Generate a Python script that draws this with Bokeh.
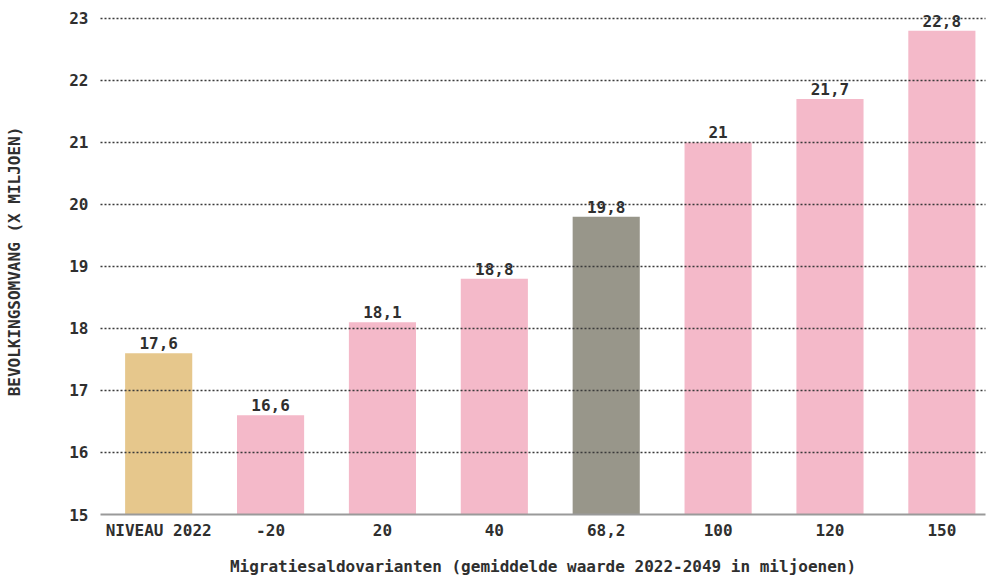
from bokeh.plotting import figure
from bokeh.models import Range1d, FixedTicker, ColumnDataSource
from bokeh.core.properties import value
from bokeh.embed import file_html
from bokeh.resources import INLINE

categories = ["NIVEAU 2022", "-20", "20", "40", "68,2", "100", "120", "150"]
populations = [17.6, 16.6, 18.1, 18.8, 19.8, 21.0, 21.7, 22.8]
bar_colors = ["#E6C78C", "#F4B9C9", "#F4B9C9", "#F4B9C9", "#98968A", "#F4B9C9", "#F4B9C9", "#F4B9C9"]
y_ticks = [15, 16, 17, 18, 19, 20, 21, 22, 23]
y_title = "BEVOLKINGSOMVANG (X MILJOEN)"
x_title = "Migratiesaldovarianten (gemiddelde waarde 2022-2049 in miljoenen)"

FONT = "DejaVu Sans Mono"
TXT = "#2f2f2f"
FS = "16px"

pos = list(range(len(categories)))
labels = [f"{v:g}".replace(".", ",") for v in populations]
src = ColumnDataSource(dict(x=pos, top=populations, color=bar_colors, label=labels))

p = figure(width=990, height=578, output_backend="svg", toolbar_location=None,
           x_range=Range1d(-0.52, 7.39), y_range=Range1d(15, 23.16),
           min_border_left=100, min_border_right=5, min_border_top=8, min_border_bottom=63)
p.outline_line_color = None
p.background_fill_color = "white"
p.border_fill_color = "white"

p.vbar(x="x", top="top", bottom=15, width=0.6, color="color", line_color=None, source=src)
p.text(x="x", y="top", text="label", source=src, text_align="center", text_baseline="middle",
       y_offset=-10, text_font=value(FONT), text_font_style="bold", text_font_size=FS,
       text_color=TXT)

# axes
p.xaxis.ticker = FixedTicker(ticks=pos)
p.xaxis.major_label_overrides = {i: c for i, c in zip(pos, categories)}
p.xaxis.major_tick_line_color = None
p.xaxis.minor_tick_line_color = None
p.xaxis.axis_line_color = "#9a9a9a"
p.xaxis.axis_line_width = 2
p.xaxis.major_label_standoff = 0
p.xaxis.major_label_text_font = FONT
p.xaxis.major_label_text_font_style = "bold"
p.xaxis.major_label_text_font_size = FS
p.xaxis.major_label_text_color = TXT
p.xaxis.axis_label = x_title
p.xaxis.axis_label_standoff = 14
p.xaxis.axis_label_text_font = FONT
p.xaxis.axis_label_text_font_style = "bold"
p.xaxis.axis_label_text_font_size = FS
p.xaxis.axis_label_text_color = TXT

p.yaxis.ticker = FixedTicker(ticks=y_ticks)
p.yaxis.axis_line_color = None
p.yaxis.major_tick_line_color = None
p.yaxis.minor_tick_line_color = None
p.yaxis.major_label_standoff = 6
p.yaxis.major_label_text_font = FONT
p.yaxis.major_label_text_font_style = "bold"
p.yaxis.major_label_text_font_size = FS
p.yaxis.major_label_text_color = TXT
p.yaxis.axis_label = y_title
p.yaxis.axis_label_standoff = 42
p.yaxis.axis_label_text_font = FONT
p.yaxis.axis_label_text_font_style = "bold"
p.yaxis.axis_label_text_font_size = FS
p.yaxis.axis_label_text_color = TXT

p.xgrid.grid_line_color = None
p.ygrid.ticker = FixedTicker(ticks=y_ticks[1:])
p.ygrid.grid_line_color = "#3a3a3a"
p.ygrid.grid_line_width = 1.6
p.ygrid.grid_line_dash = "2 2"
p.ygrid.level = "overlay"

open("out.html", "w").write(file_html(p, INLINE))
